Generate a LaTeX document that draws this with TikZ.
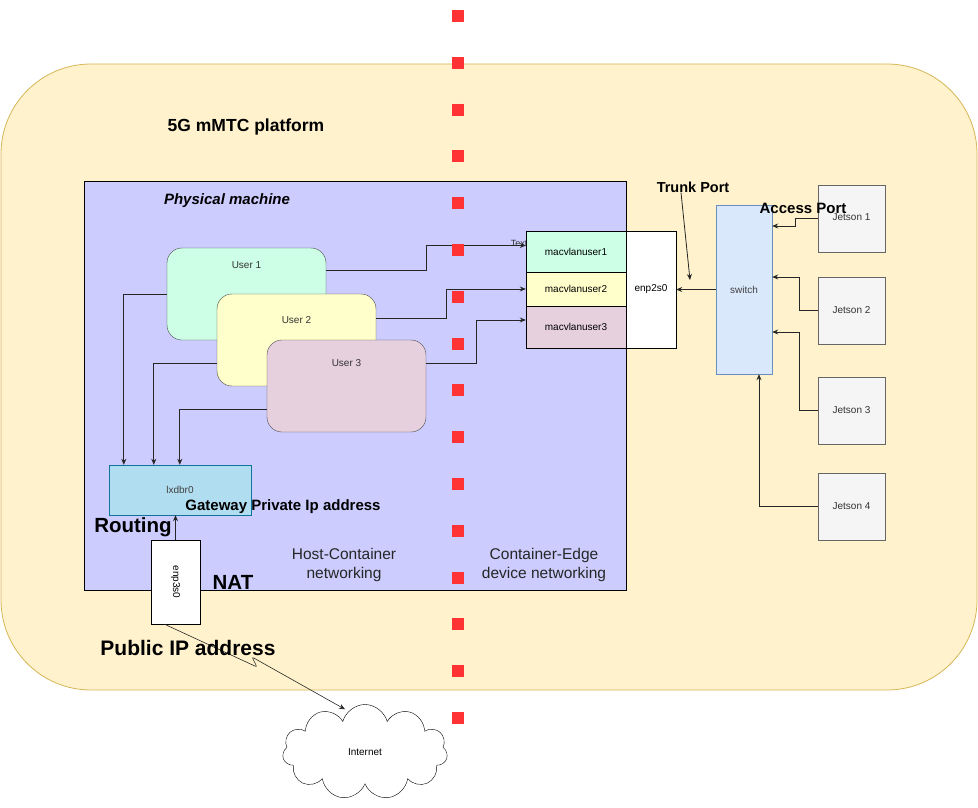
\documentclass[tikz,border=0pt]{standalone}
\usepackage{fontspec}
\setmainfont{Liberation Sans}
\usetikzlibrary{shapes, shapes.symbols, arrows.meta, positioning, calc}
\definecolor{platfill}{HTML}{FFF2CC}
\definecolor{platdraw}{HTML}{D6B656}
\definecolor{pmfill}{HTML}{CCCCFF}
\definecolor{ufill}{HTML}{CCFFE6}
\definecolor{uufill}{HTML}{FFFFCC}
\definecolor{uuufill}{HTML}{E6D0DE}
\definecolor{brfill}{HTML}{B1DDF0}
\definecolor{brdraw}{HTML}{10739E}
\definecolor{swfill}{HTML}{DAE8FC}
\definecolor{swdraw}{HTML}{6C8EBF}
\definecolor{jfill}{HTML}{F5F5F5}
\definecolor{jdraw}{HTML}{666666}
\definecolor{redsep}{HTML}{FF3333}

\begin{document}
\begin{tikzpicture}[x=1pt, y=-1pt,
  box/.style={draw, rectangle, inner sep=0pt, font=\fontsize{10}{12}\selectfont},
  userbox/.style={box, draw=black!70, rounded corners=15pt, minimum width=159, minimum height=92},
  jet/.style={box, draw=jdraw, fill=jfill, minimum width=67, minimum height=67, text=black!80},
  lbl/.style={font=\fontsize{15}{18}\selectfont\bfseries, inner sep=0pt},
  big/.style={font=\fontsize{20.5}{24}\selectfont\bfseries, inner sep=0pt},
  note/.style={font=\fontsize{15.5}{19}\selectfont, align=center, inner sep=0pt, text=black!85},
  arr/.style={-{Stealth[length=6pt, width=5pt]}, line width=0.8pt, black!85},
]
  \useasboundingbox (0,0) rectangle (978,808);
  \draw[fill=platfill, draw=platdraw, line width=0.8pt, rounded corners=90pt] (1,64) rectangle (977,690);
  \node[box, fill=pmfill, minimum width=542, minimum height=409] (pm) at (355,385.5) {};

  \node[lbl, font=\fontsize{17.5}{20}\selectfont\bfseries] (plat) at (246,127) {5G mMTC platform};
  \node[lbl, font=\fontsize{15}{18}\selectfont\bfseries\itshape] (pmname) at (227,201) {Physical machine};

  \node[userbox, fill=ufill, label={[anchor=north, yshift=-10pt, font=\fontsize{10}{12}\selectfont, text=black!80]north:User 1}] (u1) at (246.5,294) {};
  \node[userbox, fill=uufill, label={[anchor=north, yshift=-19pt, font=\fontsize{10}{12}\selectfont, text=black!80]north:User 2}] (u2) at (296.5,340) {};
  \node[userbox, fill=uuufill, label={[anchor=north, yshift=-16pt, font=\fontsize{10}{12}\selectfont, text=black!80]north:User 3}] (u3) at (346.5,386) {};

  \node[box, draw=brdraw, fill=brfill, minimum width=142, minimum height=50, text=black!75] (lx) at (180,490) {lxdbr0};

  \node[font=\fontsize{9}{10}\selectfont, inner sep=0pt, text=black!80] (txt) at (519,243) {Text};
  \node[box, fill=ufill, minimum width=100, minimum height=41] (m1) at (576,251.5) {macvlanuser1};
  \node[box, fill=uufill, minimum width=100, minimum height=34] (m2) at (576,289) {macvlanuser2};
  \node[box, fill=uuufill, minimum width=100, minimum height=42] (m3) at (576,327) {macvlanuser3};
  \node[box, fill=white, minimum width=50, minimum height=117] (en2) at (651,289.5) {enp2s0};

  \node[box, draw=swdraw, fill=swfill, minimum width=56, minimum height=169, text=black!75] (sw) at (744,289.5) {\raisebox{-4pt}{switch}};
  \node[jet] (j1) at (851.5,218.5) {\raisebox{2pt}{Jetson 1}};
  \node[jet] (j2) at (851.5,310.5) {\raisebox{-3pt}{Jetson 2}};
  \node[jet] (j3) at (851.5,410.5) {Jetson 3};
  \node[jet] (j4) at (851.5,506.5) {Jetson 4};

  \node[box, fill=white, minimum width=49, minimum height=84] (e3) at (175.5,582) {\rotatebox{-90}{enp3s0}};
  \node[draw, cloud, cloud puffs=11, aspect=1.75, minimum width=165, minimum height=95, inner sep=0pt, fill=white, font=\fontsize{10}{12}\selectfont] (cl) at (365,752) {Internet};

  \draw[arr] ([yshift=24pt]u1.east) -- ++(100,0) |- ([yshift=6pt]m1.west);
  \draw[arr] ([yshift=22pt]u2.east) -- ++(70,0) |- (m2.west);
  \draw[arr] ([yshift=23pt]u3.east) -- ++(50,0) |- ([yshift=7pt]m3.west);
  \draw[arr] (u1.west) -| ([xshift=15pt]lx.north west);
  \draw[arr] ([yshift=-23pt]u2.west) -| ([xshift=45pt]lx.north west);
  \draw[arr] ([yshift=-23pt]u3.west) -| ([xshift=71pt]lx.north west);
  \draw[arr] (e3.north) -- (e3.north |- lx.south);
  \draw[arr] (sw.west) -- (en2.east);
  \draw[arr] (j1.west) -- ++(-22,0) |- ([yshift=63.5pt]sw.east);
  \draw[arr] (j2.west) -- ++(-18,0) |- ([yshift=12.5pt]sw.east);
  \draw[arr] (j3.west) -- ++(-18,0) |- ([yshift=-42.5pt]sw.east);
  \draw[arr] (j4.west) -| ([xshift=15pt]sw.south);
  \draw[arr, line width=0.6pt, rounded corners=2pt] ([xshift=-11pt]e3.south) -- (257,667) -- (252,657) -- ([xshift=-20pt, yshift=-5pt]cl.north);

  \node[lbl, font=\fontsize{14.5}{17}\selectfont\bfseries] (trunk) at (693,187) {Trunk Port};
  \coordinate (trunkend) at (690,280);
  \draw[arr] ([xshift=-12pt]trunk.south) -- (trunkend);
  \node[lbl] (access) at (803,208) {Access Port};

  \node[note] (hc) at (344,565) {Host-Container\\networking};
  \node[note] (ce) at (544,565) {Container-Edge\\device networking};

  \node[lbl] (gw) at (283,507) {Gateway Private Ip address};
  \node[big] (routing) at (133,527) {Routing};
  \node[big] (nat) at (233,582) {NAT};
  \node[big, font=\fontsize{21}{25}\selectfont\bfseries] (pub) at (188,648) {Public IP address};

  \draw[redsep, line width=12pt, dash pattern=on 12pt off 34.8pt] (458,10) -- (458,730);
\end{tikzpicture}
\end{document}
